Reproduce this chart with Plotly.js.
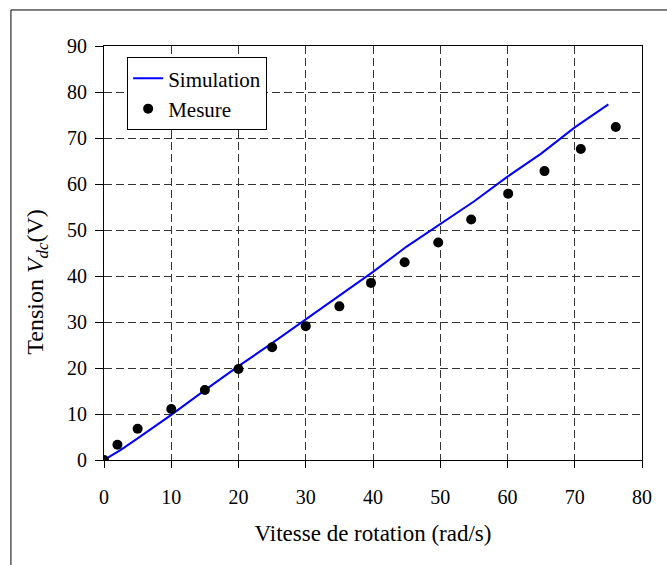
<!DOCTYPE html>
<html>
<head>
<meta charset="utf-8">
<script src="https://cdn.plot.ly/plotly-3.0.1.min.js"></script>
<style>
html,body{margin:0;padding:0;background:#fff;}
#chart{width:667px;height:565px;}
</style>
</head>
<body>
<div id="chart"></div>
<script>
// Simulation curve (rad/s -> V)
var simSpeed = [0, 2.5, 5, 7.5, 10, 15, 20, 25, 30, 35, 40, 45, 50, 55, 60, 65, 70, 75];
var simVoltage = [0, 2.2, 4.7, 7.2, 9.8, 15.2, 20.4, 25.4, 30.5, 35.8, 40.9, 46.4, 51.3, 56.2, 61.6, 66.6, 72.3, 77.3];

// Measured points
var mesSpeed = [0, 2, 5, 10, 15, 20, 25, 30, 35, 39.7, 44.7, 49.7, 54.6, 60.1, 65.5, 70.9, 76.1];
var mesVoltage = [0, 3.3, 6.8, 11.1, 15.2, 19.8, 24.5, 29.1, 33.4, 38.5, 43.0, 47.3, 52.3, 57.9, 62.8, 67.6, 72.4];

var xTicks = [0, 10, 20, 30, 40, 50, 60, 70, 80];
var yTicks = [0, 10, 20, 30, 40, 50, 60, 70, 80, 90];

var xTitle = 'Vitesse de rotation (rad/s)';
var yTitle = 'Tension <i>V</i><sub><i>dc</i></sub>(V)';

var font = 'Liberation Serif, Times New Roman, serif';

var traces = [
  {x: simSpeed, y: simVoltage, mode: 'lines', name: 'Simulation',
   line: {color: '#0000ff', width: 2}},
  {x: mesSpeed, y: mesVoltage, mode: 'markers', name: 'Mesure',
   marker: {color: '#000000', size: 10}}
];

var layout = {
  width: 667, height: 565,
  margin: {l: 104, r: 25, t: 46, b: 105},
  paper_bgcolor: '#ffffff', plot_bgcolor: '#ffffff',
  font: {family: font, size: 20, color: '#000'},
  showlegend: true,
  legend: {x: 0.043, y: 0.973, xanchor: 'left', yanchor: 'top',
           bgcolor: '#ffffff', bordercolor: '#000', borderwidth: 1,
           font: {family: font, size: 21, color: '#000'}},
  xaxis: {range: [0, 80], tickvals: xTicks, ticktext: xTicks.map(String),
          ticks: 'outside', ticklen: 7, tickcolor: '#000', ticklabelstandoff: 12,
          tickfont: {family: font, size: 20, color: '#000'},
          showline: true, linecolor: '#000', linewidth: 1, mirror: true,
          showgrid: true, gridcolor: '#333', griddash: '8px,4px', gridwidth: 1,
          zeroline: false, fixedrange: true,
          title: {text: xTitle, standoff: 17,
                  font: {family: font, size: 23, color: '#000'}}},
  yaxis: {range: [0, 90], tickvals: yTicks, ticktext: yTicks.map(String),
          ticks: 'outside', ticklen: 8, tickcolor: '#000', ticklabelstandoff: 4,
          tickfont: {family: font, size: 20, color: '#000'},
          showline: true, linecolor: '#000', linewidth: 1, mirror: true,
          showgrid: true, gridcolor: '#333', griddash: '8px,4px', gridwidth: 1,
          zeroline: false, fixedrange: true},
  annotations: [{text: yTitle, xref: 'paper', yref: 'paper',
                 x: -0.125, y: 0.43, xanchor: 'center', yanchor: 'middle',
                 textangle: -90, showarrow: false,
                 font: {family: font, size: 24, color: '#000'}}],
  shapes: [{type: 'rect', xref: 'paper', yref: 'paper',
            x0: -0.173, x1: 1.2, y0: -0.5, y1: 1.087,
            line: {color: '#000', width: 1}, fillcolor: 'rgba(0,0,0,0)', layer: 'below'}]
};

Plotly.newPlot('chart', traces, layout, {staticPlot: true, displayModeBar: false});
</script>
</body>
</html>
